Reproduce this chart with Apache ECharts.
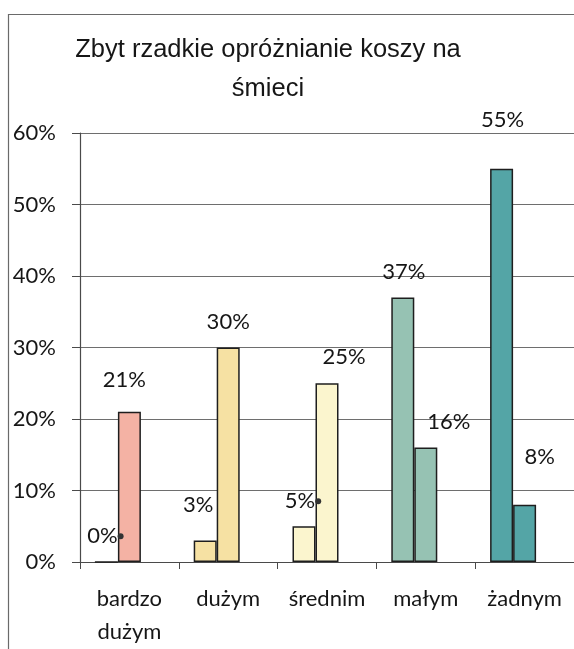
<!DOCTYPE html>
<html>
<head>
<meta charset="utf-8">
<script src="https://cdn.jsdelivr.net/npm/echarts@6/dist/echarts.min.js"></script>
<style>
  html, body { margin: 0; padding: 0; background: #ffffff; }
  #chart { width: 574px; height: 649px; }
</style>
</head>
<body>
<div id="chart"></div>
<script>
// Category names (size of the bins) and the two answer series, in percent
const categories = ['bardzo\ndużym', 'dużym', 'średnim', 'małym', 'żadnym'];
const seriesFirst = [0, 3, 5, 37, 55];
const seriesSecond = [21, 30, 25, 16, 8];
const yTicks = [0, 10, 20, 30, 40, 50, 60];

// One fill per category, shared by both bars of that category
const categoryColors = ['#F4B2A4', '#F6E1A3', '#FBF5CE', '#96C2B3', '#54A5A6'];

// Hand-placed label offsets [dx, dy] from the bar's top centre
const firstOffsets = [[-1, -25], [-7, -36], [-1, -25], [1, -26], [1, -49]];
const secondOffsets = [[-5, -32], [0, -26], [17, -26], [23, -26], [15, -48]];
// labels that end in a small leader dot
const firstDots = [true, false, true, false, false];

const labelFont = 'Lato, "Open Sans", sans-serif';
const ink = '#161616';

function makeData(values, offsets, dots) {
  return values.map((v, i) => ({
    value: v,
    itemStyle: { color: categoryColors[i] },
    label: {
      offset: offsets[i],
      formatter: dots && dots[i] ? '{t|' + v + '%}{d|}' : '{t|' + v + '%}'
    }
  }));
}

const barLabel = {
  show: true,
  position: 'top',
  distance: 0,
  verticalAlign: 'middle',
  rich: {
    t: { fontFamily: labelFont, fontSize: 22, color: ink, lineHeight: 22 },
    d: { width: 6, height: 6, borderRadius: 3, backgroundColor: '#333333' }
  }
};

const barStyle = { borderColor: '#1e1e1e', borderWidth: 1.5 };

const chart = echarts.init(document.getElementById('chart'), null, { renderer: 'canvas' });

chart.setOption({
  backgroundColor: '#ffffff',
  animation: false,
  title: {
    text: 'Zbyt rzadkie opróżnianie koszy na\nśmieci',
    left: 263,
    top: 25,
    textAlign: 'center',
    textStyle: {
      fontFamily: '"Liberation Sans", Arial, sans-serif',
      fontSize: 25.5,
      fontWeight: 'normal',
      color: ink,
      lineHeight: 39
    }
  },
  graphic: [{
    type: 'rect',
    left: 6,
    top: 12,
    shape: { width: 620, height: 700 },
    style: { fill: 'none', stroke: '#6a6a6a', lineWidth: 1.2 },
    silent: true
  }],
  grid: { left: 80, top: 133, width: 500, height: 429 },
  xAxis: {
    type: 'category',
    data: categories,
    axisLine: { lineStyle: { color: '#4a4a4a', width: 1.2 } },
    axisTick: { show: true, length: 7, interval: 0, lineStyle: { color: '#4a4a4a' } },
    axisLabel: {
      interval: 0,
      margin: 20,
      fontFamily: labelFont,
      fontSize: 22,
      lineHeight: 33,
      color: ink
    }
  },
  yAxis: {
    type: 'value',
    min: yTicks[0],
    max: yTicks[yTicks.length - 1],
    interval: 10,
    axisLine: { show: true, lineStyle: { color: '#4a4a4a', width: 1.2 } },
    axisTick: { show: true, length: 8, lineStyle: { color: '#4a4a4a' } },
    splitLine: { lineStyle: { color: '#6e6e6e', width: 1 } },
    axisLabel: {
      margin: 24,
      fontFamily: labelFont,
      fontSize: 22,
      color: ink,
      formatter: '{value}%'
    }
  },
  series: [
    {
      type: 'bar',
      name: 'A',
      data: makeData(seriesFirst, firstOffsets, firstDots),
      barWidth: 23,
      barGap: '0%',
      itemStyle: barStyle,
      label: barLabel
    },
    {
      type: 'bar',
      name: 'B',
      data: makeData(seriesSecond, secondOffsets, null),
      barWidth: 23,
      barGap: '0%',
      itemStyle: barStyle,
      label: barLabel
    },
    {
      // empty third slot: keeps each pair left of its category centre
      type: 'bar',
      name: 'C',
      data: categories.map(() => null),
      barWidth: 23,
      barGap: '0%'
    }
  ]
});
</script>
</body>
</html>
